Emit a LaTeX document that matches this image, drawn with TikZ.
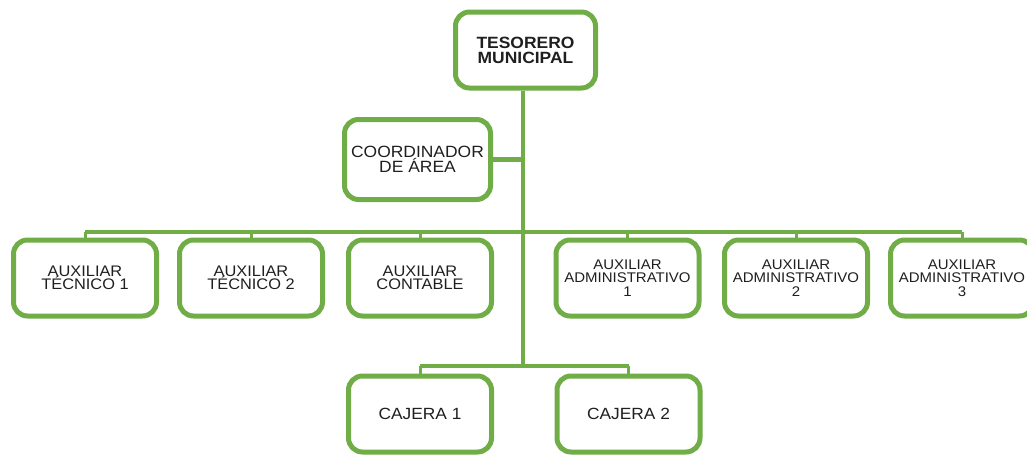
\documentclass[tikz,border=0pt]{standalone}
\usepackage{fontspec}
\setmainfont[FakeStretch=1.07]{Liberation Sans}
\definecolor{boxgreen}{HTML}{70AD47}
\definecolor{txt}{HTML}{1F1F1F}
\tikzset{
  orgbox/.style={draw=boxgreen, line width=5pt, rounded corners=14pt, fill=white,
    minimum width=143pt, minimum height=76pt, inner sep=0pt, align=center,
    text=txt, font=\fontsize{15.3}{13.6}\selectfont},
  admtext/.style={font=\fontsize{14}{13.3}\selectfont},
  conn/.style={draw=boxgreen, line width=4.5pt},
  stub/.style={draw=boxgreen, line width=3pt}
}
\begin{document}
\begin{tikzpicture}[x=1pt,y=-1pt]
\useasboundingbox[fill=white] (0,0) rectangle (1027,458);
\begin{scope}
\clip (0,0) rectangle (1027,458);
\coordinate (tk) at (523,366);
\coordinate (bar) at (523,232);
\node[orgbox, minimum width=140pt, font=\bfseries\fontsize{16.3}{15}\selectfont] (tes) at (525.5,50) {TESORERO\\MUNICIPAL};
\node[orgbox, minimum width=146pt, minimum height=80pt, font=\fontsize{16.3}{14.5}\selectfont] (coord) at (417.5,159.5) {COORDINADOR\\DE ÁREA};
\node[orgbox] (t1) at (85,278) {AUXILIAR\\TÉCNICO 1};
\node[orgbox] (t2) at (251,278) {AUXILIAR\\TÉCNICO 2};
\node[orgbox] (cont) at (420,278) {AUXILIAR\\CONTABLE};
\node[orgbox, admtext] (a1) at (627.5,278) {AUXILIAR\\ADMINISTRATIVO\\1};
\node[orgbox, admtext] (a2) at (796,278) {AUXILIAR\\ADMINISTRATIVO\\2};
\node[orgbox, admtext] (a3) at (962,278) {AUXILIAR\\ADMINISTRATIVO\\3};
\node[orgbox, font=\fontsize{16.2}{15}\selectfont] (c1) at (420,414) {CAJERA 1};
\node[orgbox, font=\fontsize{16.2}{15}\selectfont] (c2) at (628.5,414) {CAJERA 2};
\draw[conn] (tes.south -| tk) -- (tk);
\draw[conn] (coord.east) -- (coord.east -| tk);
\draw[conn] (t1.north |- bar) -- (a3.north |- bar);
\foreach \n in {t1,t2,cont,a1,a2,a3} \draw[stub] (\n.north |- bar) -- (\n.north);
\draw[conn] (c1.north |- tk) -- (c2.north |- tk);
\foreach \n in {c1,c2} \draw[stub] (\n.north |- tk) -- (\n.north);
\end{scope}
\end{tikzpicture}
\end{document}
